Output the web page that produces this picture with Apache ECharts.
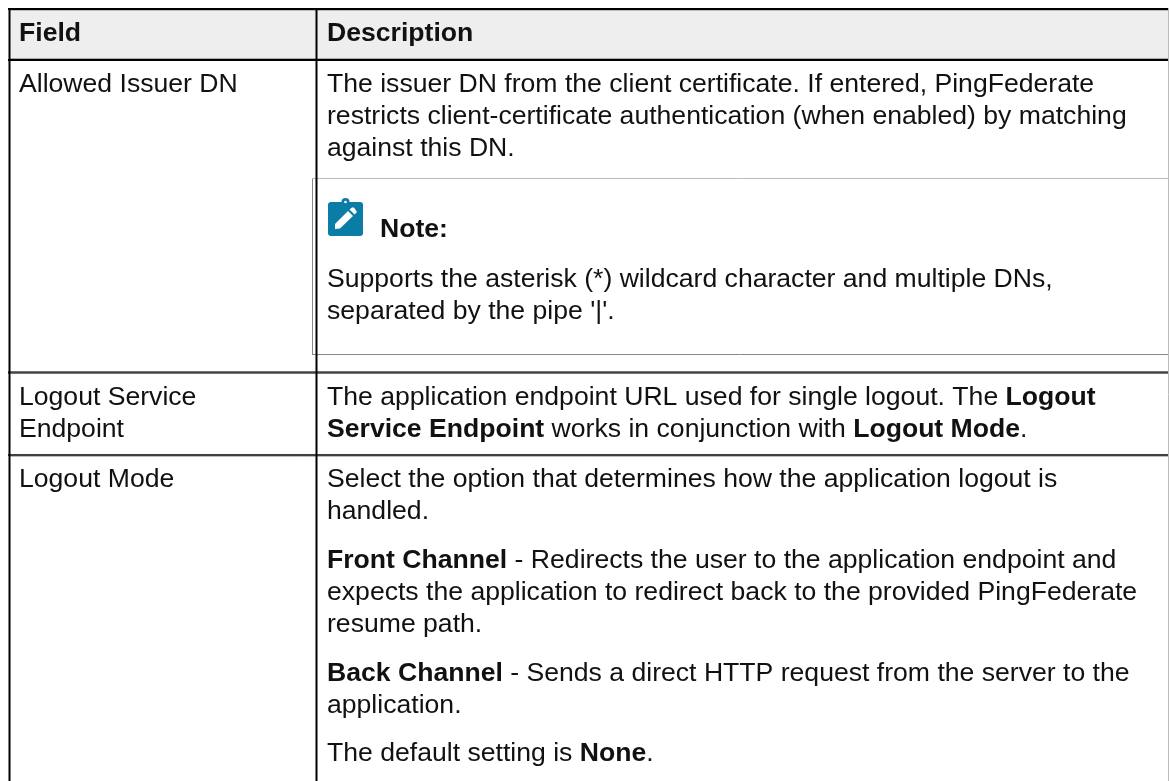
<!DOCTYPE html>
<html lang="en">

<head>
    <meta charset="UTF-8">
    <title>Document</title>
    <script src="https://cdn.jsdelivr.net/npm/echarts@6/dist/echarts.min.js"></script>
    <style>
        * {
            padding: 0;
            margin: 0;
        }

        html,
        body,
        #table {
            width: 100%;
            height: 100%;
            background: #fff;
        }
    </style>
</head>

<body>
    <div id="table"></div>
</body>

</html>
<script>
    // table text, [text, baseline y], ** marks bold runs
    let headerCells = ['Field', 'Description'];
    let fieldLines = [
        ['Allowed Issuer DN', 92],
        ['Logout Service', 405],
        ['Endpoint', 437],
        ['Logout Mode', 487]
    ];
    let descLines = [
        ['The issuer DN from the client certificate. If entered, PingFederate', 92],
        ['restricts client-certificate authentication (when enabled) by matching', 124],
        ['against this DN.', 156],
        ['Supports the asterisk (*) wildcard character and multiple DNs,', 287],
        ["separated by the pipe '|'.", 319],
        ['The application endpoint URL used for single logout. The **Logout**', 405],
        ['**Service Endpoint** works in conjunction with **Logout Mode**.', 437],
        ['Select the option that determines how the application logout is', 487],
        ['handled.', 519],
        ['**Front Channel** - Redirects the user to the application endpoint and', 568],
        ['expects the application to redirect back to the provided PingFederate', 600],
        ['resume path.', 632],
        ['**Back Channel** - Sends a direct HTTP request from the server to the', 681],
        ['application.', 713],
        ['The default setting is **None**.', 761]
    ];

    const fontFamily = '"Liberation Sans", Arial, sans-serif';
    const fontSize = 26.6;
    const textColor = '#111';

    // turns **bold** marks into echarts rich text
    function richText(str) {
        return str.split('**').map(function (part, i) {
            if (!part) return '';
            return '{' + (i % 2 ? 'b' : 'n') + '|' + part + '}';
        }).join('');
    }

    function textEl(str, x, y) {
        return {
            type: 'text',
            x: x,
            y: y,
            style: {
                text: richText(str),
                verticalAlign: 'bottom',
                rich: {
                    n: { fontFamily: fontFamily, fontSize: fontSize, fill: textColor, lineHeight: 30 },
                    b: { fontFamily: fontFamily, fontSize: fontSize, fontWeight: 'bold', fill: textColor, lineHeight: 30 }
                }
            }
        };
    }

    function line(x1, y1, x2, y2, color, width) {
        return {
            type: 'line',
            shape: { x1: x1, y1: y1, x2: x2, y2: y2 },
            style: { stroke: color, lineWidth: width }
        };
    }

    const textDrop = 8;
    let els = [];

    // header band
    els.push({ type: 'rect', shape: { x: 10, y: 10, width: 1158, height: 49 }, style: { fill: '#eee' } });

    // note box
    els.push(line(312.5, 178, 312.5, 355, '#888', 1));
    els.push(line(312, 178.5, 1169, 178.5, '#bbb', 1));
    els.push(line(312, 354.5, 1169, 354.5, '#888', 1));

    // table rules
    els.push(line(8, 9, 1169, 9, '#000', 2));
    els.push(line(10, 10.5, 1169, 10.5, '#bbb', 1));
    els.push(line(10, 58.5, 1169, 58.5, '#aaa', 1));
    els.push(line(8, 60, 1169, 60, '#000', 2));
    els.push(line(8, 372.5, 1169, 372.5, '#444', 2.5));
    els.push(line(8, 455, 1169, 455, '#000', 1.5));
    els.push(line(10, 456.5, 1169, 456.5, '#bbb', 1));
    els.push(line(9.5, 8, 9.5, 781, '#000', 2));
    els.push(line(316.5, 8, 316.5, 781, '#000', 2));
    els.push(line(1168.5, 8, 1168.5, 781, '#bbb', 1));

    // note icon
    els.push({ type: 'rect', shape: { x: 328, y: 202, width: 35, height: 34, r: 3 }, style: { fill: '#0a7ca5' } });
    els.push({ type: 'circle', shape: { cx: 345.5, cy: 202, r: 4 }, style: { fill: '#0a7ca5' } });
    els.push({ type: 'circle', shape: { cx: 345.5, cy: 202, r: 1.3 }, style: { fill: '#fff' } });
    els.push({
        type: 'polygon',
        shape: { points: [[335, 224], [335, 229], [340, 228.5], [353, 216], [348, 211]] },
        style: { fill: '#fff' }
    });
    els.push({
        type: 'polygon',
        shape: { points: [[349.5, 209.5], [354.5, 214.5], [357, 212], [354, 207.5], [352, 207.5]] },
        style: { fill: '#fff' }
    });

    // text
    els.push(textEl('**' + headerCells[0] + '**', 19, 41 + textDrop));
    els.push(textEl('**' + headerCells[1] + '**', 327, 41 + textDrop));
    els.push(textEl('**Note:**', 380, 237 + textDrop));
    fieldLines.forEach(function (l) {
        els.push(textEl(l[0], 19, l[1] + textDrop));
    });
    descLines.forEach(function (l) {
        els.push(textEl(l[0], 327, l[1] + textDrop));
    });

    var myChart = echarts.init(document.getElementById('table'));
    myChart.setOption({
        animation: false,
        graphic: { elements: els }
    });
</script>
